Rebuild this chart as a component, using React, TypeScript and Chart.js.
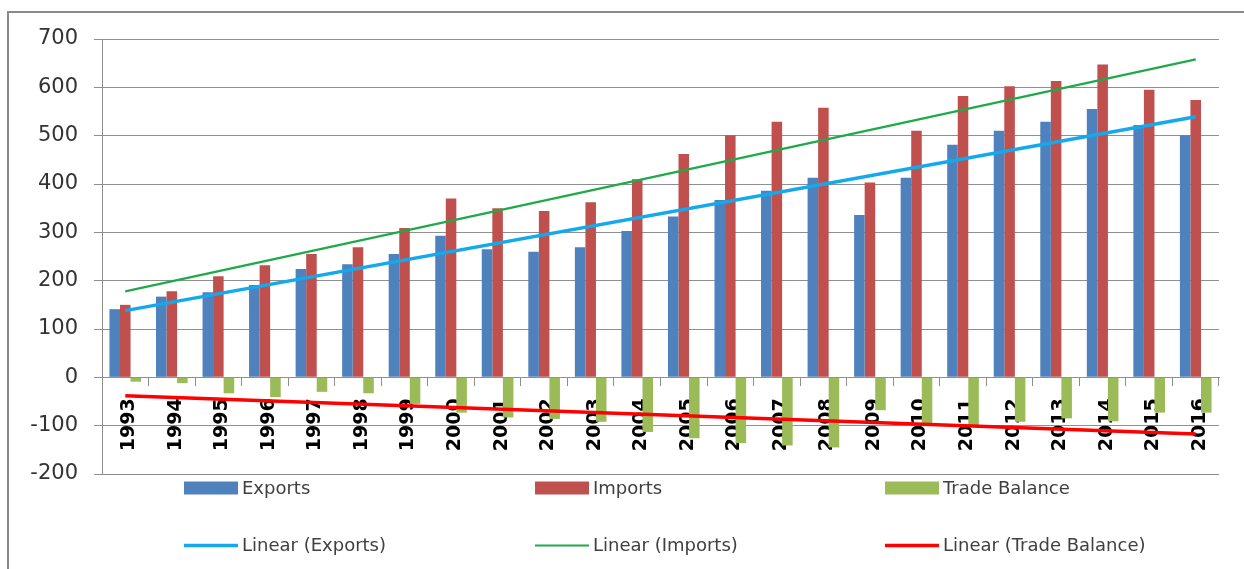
import React, { useEffect, useRef } from 'react';
import { Chart, registerables } from 'chart.js';

Chart.register(...registerables);

const years = ['1993','1994','1995','1996','1997','1998','1999','2000','2001','2002','2003','2004','2005','2006','2007','2008','2009','2010','2011','2012','2013','2014','2015','2016'];
const exportsValues = [141,167,176,191,224,234,255,293,265,260,269,303,333,367,386,413,336,413,481,510,529,555,522,501];
const importsValues = [150,178,209,232,255,269,309,370,350,344,362,410,462,501,529,558,403,510,582,602,613,647,595,574];
const tradeBalanceValues = [-9,-12,-33,-41,-30,-33,-55,-73,-83,-86,-92,-113,-126,-136,-141,-145,-68,-97,-101,-92,-85,-91,-73,-73];
// trendline end points (first year, last year)
const exportsTrend = [138, 539];
const importsTrend = [178, 658];
const balanceTrend = [-38, -117];
const yMin = -200;
const yMax = 700;
const yStep = 100;

const BLUE = '#4F81BD';
const RED = '#C0504D';
const GREEN = '#9BBB59';
const CYAN = '#14A9EC';
const TGREEN = '#1FAA4A';
const TRED = '#FF0000';
const GRID = '#8f8f8f';

const frame = {
  id: 'frame',
  beforeDraw(chart: any) {
    const ctx = chart.ctx;
    ctx.save();
    ctx.fillStyle = '#ffffff';
    ctx.fillRect(0, 0, chart.width, chart.height);
    ctx.strokeStyle = '#8a8a8a';
    ctx.lineWidth = 2;
    ctx.beginPath();
    ctx.moveTo(8, chart.height);
    ctx.lineTo(8, 12);
    ctx.lineTo(chart.width, 12);
    ctx.stroke();
    ctx.restore();
  },
};

const customLegend = {
  id: 'customLegend',
  afterDraw(chart: any) {
    const ctx = chart.ctx;
    const cols = [184, 535, 885];
    const rows = [488, 545.5];
    const ds = chart.data.datasets;
    let barIdx = 0;
    let lineIdx = 0;
    const items: any[] = [];
    ds.forEach((d: any) => {
      if (d.type === 'bar') items.push({ d, row: 0, col: barIdx++ });
      else items.push({ d, row: 1, col: lineIdx++ });
    });
    ctx.save();
    ctx.font = '18px "DejaVu Sans"';
    ctx.textBaseline = 'middle';
    items.forEach(({ d, row, col }) => {
      const x = cols[col];
      const y = rows[row];
      if (row === 0) {
        ctx.fillStyle = d.backgroundColor;
        ctx.fillRect(x, y - 6.5, 54, 13);
      } else {
        ctx.strokeStyle = d.borderColor;
        ctx.lineWidth = d.borderWidth;
        ctx.beginPath();
        ctx.moveTo(x, y);
        ctx.lineTo(x + 54, y);
        ctx.stroke();
      }
      ctx.fillStyle = '#404040';
      ctx.fillText(d.label, x + 58, y + 1);
    });
    ctx.restore();
  },
};

export default function App() {
  const ref = useRef<HTMLCanvasElement | null>(null);
  useEffect(() => {
    if (!ref.current) return;
    const first = years[0];
    const last = years[years.length - 1];
    const chart = new Chart(ref.current, {
      type: 'bar',
      data: {
        labels: years,
        datasets: [
          {
            type: 'line', label: 'Linear (Exports)', order: 0,
            data: [{ x: first, y: exportsTrend[0] }, { x: last, y: exportsTrend[1] }] as any,
            borderColor: CYAN, borderWidth: 3.5, pointRadius: 0, fill: false,
          },
          {
            type: 'line', label: 'Linear (Imports)', order: 0,
            data: [{ x: first, y: importsTrend[0] }, { x: last, y: importsTrend[1] }] as any,
            borderColor: TGREEN, borderWidth: 2.2, pointRadius: 0, fill: false,
          },
          {
            type: 'line', label: 'Linear (Trade Balance)', order: 0,
            data: [{ x: first, y: balanceTrend[0] }, { x: last, y: balanceTrend[1] }] as any,
            borderColor: TRED, borderWidth: 3.5, pointRadius: 0, fill: false,
          },
          { type: 'bar', label: 'Exports', order: 1, data: exportsValues, backgroundColor: BLUE },
          { type: 'bar', label: 'Imports', order: 1, data: importsValues, backgroundColor: RED },
          { type: 'bar', label: 'Trade Balance', order: 1, data: tradeBalanceValues, backgroundColor: GREEN },
        ] as any,
      },
      options: {
        animation: false,
        responsive: false,
        layout: { padding: { left: 0, right: 25, top: 39, bottom: 95 } },
        datasets: { bar: { categoryPercentage: 0.68, barPercentage: 1.0 } },
        plugins: { legend: { display: false }, tooltip: { enabled: false }, title: { display: false } },
        scales: {
          x: {
            type: 'category',
            position: { y: 0 } as any,
            offset: true,
            z: 1,
            grid: { display: true, drawOnChartArea: false, drawTicks: true, tickLength: 8, color: GRID, offset: true },
            border: { display: true, color: GRID, width: 1 },
            ticks: {
              autoSkip: false, maxRotation: 90, minRotation: 90, padding: 13, labelOffset: 4,
              color: '#000000', font: { family: '"DejaVu Sans"', size: 19, weight: 'bold' },
            },
          },
          y: {
            type: 'linear',
            min: yMin, max: yMax,
            afterFit: (scale: any) => { scale.width = 102; },
            grid: { color: GRID, lineWidth: 1, drawTicks: true, tickLength: 8 },
            border: { display: true, color: GRID, width: 1 },
            ticks: {
              stepSize: yStep, padding: 16, color: '#333333',
              font: { family: '"DejaVu Sans"', size: 21 },
            },
          },
        },
      },
      plugins: [frame, customLegend],
    } as any);
    return () => chart.destroy();
  }, []);
  return (
    <div style={{ position: 'fixed', left: 0, top: 0, width: 1244, height: 569, background: '#fff' }}>
      <canvas ref={ref} width={1244} height={569} style={{ display: 'block', width: 1244, height: 569 }} />
    </div>
  );
}
